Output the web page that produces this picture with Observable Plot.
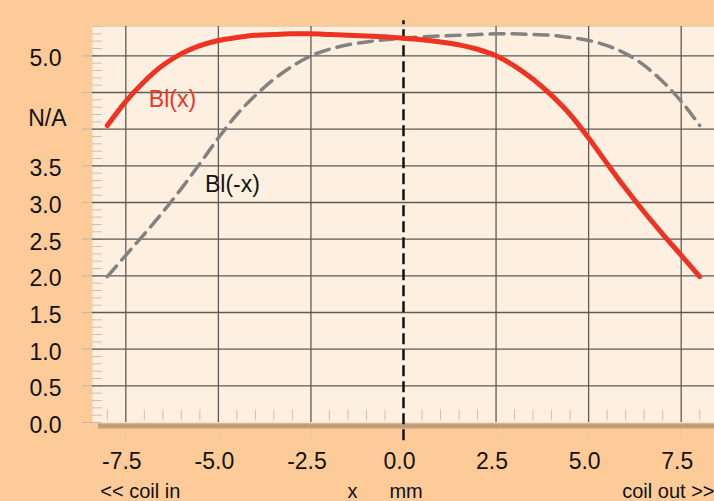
<!DOCTYPE html>
<html><head><meta charset="utf-8">
<script src="https://cdn.jsdelivr.net/npm/d3@7"></script>
<script src="https://cdn.jsdelivr.net/npm/@observablehq/plot@0.6"></script>
<style>
body{margin:0;background:#fdcb98;}
#chart svg{display:block;}
</style>
</head><body><div id="chart"></div>
<script>
// x positions (mm)
const xs = [-8,-7.5,-7,-6.5,-6,-5.5,-5,-4.5,-4,-3.5,-3,-2.5,-2,-1.5,-1,-0.5,0,0.5,1,1.5,2,2.5,3,3.5,4,4.5,5,5.5,6,6.5,7,7.5,8];
// Bl(x) N/A
const blX = [4.05,4.38,4.65,4.87,5.03,5.14,5.21,5.25,5.28,5.29,5.30,5.30,5.29,5.28,5.27,5.26,5.24,5.22,5.19,5.15,5.09,5.00,4.86,4.68,4.46,4.20,3.88,3.53,3.19,2.87,2.57,2.28,1.99];
// Bl(-x) N/A
const blMinusX = [1.99,2.28,2.57,2.87,3.19,3.53,3.88,4.20,4.46,4.68,4.86,5.00,5.09,5.15,5.19,5.22,5.24,5.26,5.27,5.28,5.29,5.30,5.30,5.29,5.28,5.25,5.21,5.14,5.03,4.87,4.65,4.38,4.05];

const xTicks = [-7.5,-5,-2.5,0,2.5,5,7.5];
const yTicks = [0,0.5,1,1.5,2,2.5,3,3.5,4,4.5,5];
const yTickLabels = [0,0.5,1,1.5,2,2.5,3,3.5,5];
const unitLabel = "N/A";
const bottomLabels = [
  {text:"<< coil in", x:-8.19, anchor:"start"},
  {text:"x", x:-1.38, anchor:"middle"},
  {text:"mm", x:-0.38, anchor:"start"},
  {text:"coil out >>", x:8.4, anchor:"end"}
];
const seriesLabels = [
  {text:"Bl(x)", x:-6.24, y:4.4, color:"#ee3322"},
  {text:"Bl(-x)", x:-4.62, y:3.25, color:"#111"}
];

const dataX = xs.map((x,i)=>({x, y: blX[i]}));
const dataMX = xs.map((x,i)=>({x, y: blMinusX[i]}));
const xMinor = d3.range(-8, 8.01, 0.5).filter(v => !xTicks.includes(v));
const yMinor = d3.range(0, 5.41, 0.1).map(v=>+v.toFixed(1));
const fmt = d => d.toFixed(1);
const byAnchor = a => bottomLabels.filter(d => d.anchor === a);

const chart = Plot.plot({
  width: 714,
  height: 501,
  marginLeft: 92,
  marginRight: 0,
  marginTop: 26,
  marginBottom: 79,
  x: {domain: [-8.4, 8.4], axis: null},
  y: {domain: [0, 5.4], axis: null},
  style: {background: "#fdcb98", fontFamily: "'Liberation Sans', Arial, sans-serif", color: "#111"},
  marks: [
    Plot.frame({fill: "#fdf0e1", stroke: null}),
    Plot.ruleY([5.4], {stroke: "#ddd0c0", strokeWidth: 1}),
    // minor ticks
    Plot.ruleY(yMinor, {x1: -8.4, x2: -8.13, stroke: "#c8c0b8", strokeWidth: 1}),
    Plot.ruleX(xMinor, {y1: 0.02, y2: 0.17, stroke: "#c8c0b8", strokeWidth: 1}),
    // grid
    Plot.ruleY(yTicks.filter(v=>v>0), {x1: -8.4, x2: 8.4, stroke: "#5e5a55", strokeWidth: 1.3}),
    Plot.ruleY(yTicks, {x1: -8.67, x2: -8.4, stroke: "#c8b8a8", strokeWidth: 1.2}),
    Plot.ruleX(xTicks.filter(v=>v!==0), {y1: 0, y2: 5.4, stroke: "#5e5a55", strokeWidth: 1.3}),
    Plot.ruleX(xTicks, {y1: -0.09, y2: -0.25, stroke: "#ecc9a0", strokeWidth: 1.2}),
    // base bar
    Plot.ruleY([0], {x1: -8.24, x2: 8.4, stroke: "#c29d7b", strokeWidth: 5, dy: 3.5}),
    // zero line
    Plot.ruleX([0], {y1: -0.25, y2: 5.48, stroke: "#111", strokeWidth: 2.5, strokeDasharray: "11,5"}),
    // curves
    Plot.line(dataMX, {x: "x", y: "y", stroke: "#848280", strokeWidth: 3.5, strokeDasharray: "14,8", curve: "monotone-x"}),
    Plot.line(dataX, {x: "x", y: "y", stroke: "#ee3322", strokeWidth: 5, curve: "monotone-x"}),
    // axes labels
    Plot.text(yTickLabels, {x: -8.4, y: d => d, text: fmt, dx: -31, dy: 3, textAnchor: "end", fontSize: 23, fill: "#111"}),
    Plot.text([unitLabel], {x: -8.4, y: 4.14, text: d => d, dx: -26, textAnchor: "end", fontSize: 23, fill: "#111"}),
    Plot.text(xTicks, {x: d => d, y: -0.54, text: fmt, dx: -4, fontSize: 23, fill: "#111"}),
    Plot.text(byAnchor("start"), {x: "x", y: -0.94, text: "text", textAnchor: "start", fontSize: 20, fill: "#111"}),
    Plot.text(byAnchor("middle"), {x: "x", y: -0.94, text: "text", textAnchor: "middle", fontSize: 20, fill: "#111"}),
    Plot.text(byAnchor("end"), {x: "x", y: -0.94, text: "text", textAnchor: "end", fontSize: 20, fill: "#111"}),
    Plot.text(seriesLabels, {x: "x", y: "y", text: "text", fill: "color", fontSize: 23})
  ]
});
document.getElementById("chart").append(chart);
</script>
</body></html>
